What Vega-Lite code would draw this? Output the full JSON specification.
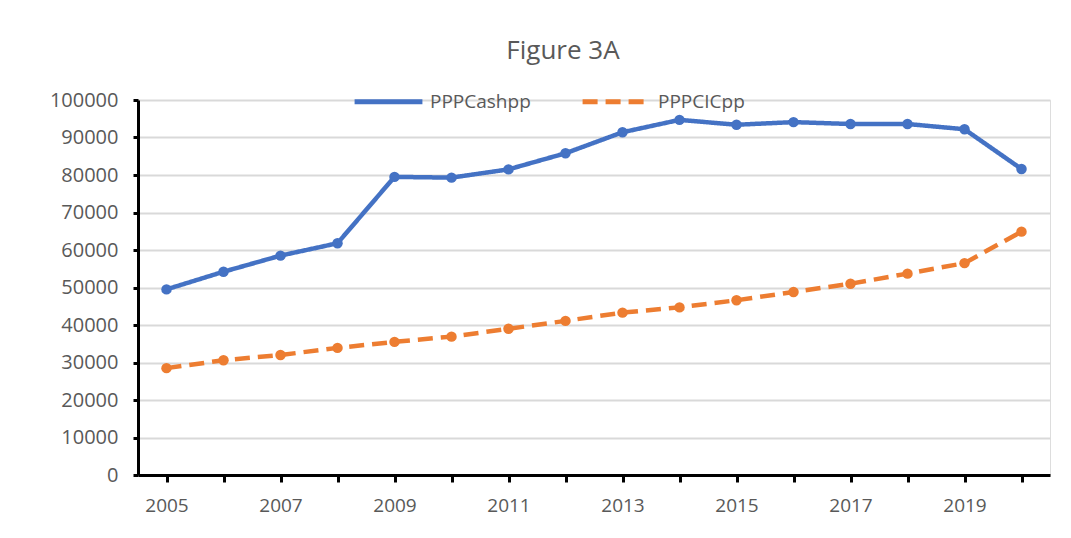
{
  "$schema": "https://vega.github.io/schema/vega-lite/v6.json",
  "width": 912,
  "height": 375,
  "autosize": "none",
  "padding": {"left": 138, "top": 100, "right": 21, "bottom": 63},
  "background": "white",
  "title": {"text": "Figure 3A", "fontSize": 26, "font": "Open Sans", "fontWeight": "normal", "color": "#595959", "anchor": "middle", "dx": -31, "offset": 1},
  "data": {"values": [
    {"year": 2005, "series": "PPPCashpp", "value": 49500},
    {"year": 2006, "series": "PPPCashpp", "value": 54200},
    {"year": 2007, "series": "PPPCashpp", "value": 58500},
    {"year": 2008, "series": "PPPCashpp", "value": 61800},
    {"year": 2009, "series": "PPPCashpp", "value": 79500},
    {"year": 2010, "series": "PPPCashpp", "value": 79300},
    {"year": 2011, "series": "PPPCashpp", "value": 81500},
    {"year": 2012, "series": "PPPCashpp", "value": 85800},
    {"year": 2013, "series": "PPPCashpp", "value": 91400},
    {"year": 2014, "series": "PPPCashpp", "value": 94700},
    {"year": 2015, "series": "PPPCashpp", "value": 93400},
    {"year": 2016, "series": "PPPCashpp", "value": 94100},
    {"year": 2017, "series": "PPPCashpp", "value": 93600},
    {"year": 2018, "series": "PPPCashpp", "value": 93600},
    {"year": 2019, "series": "PPPCashpp", "value": 92200},
    {"year": 2020, "series": "PPPCashpp", "value": 81600},
    {"year": 2005, "series": "PPPCICpp", "value": 28500},
    {"year": 2006, "series": "PPPCICpp", "value": 30600},
    {"year": 2007, "series": "PPPCICpp", "value": 32000},
    {"year": 2008, "series": "PPPCICpp", "value": 33900},
    {"year": 2009, "series": "PPPCICpp", "value": 35500},
    {"year": 2010, "series": "PPPCICpp", "value": 36900},
    {"year": 2011, "series": "PPPCICpp", "value": 39000},
    {"year": 2012, "series": "PPPCICpp", "value": 41100},
    {"year": 2013, "series": "PPPCICpp", "value": 43300},
    {"year": 2014, "series": "PPPCICpp", "value": 44700},
    {"year": 2015, "series": "PPPCICpp", "value": 46600},
    {"year": 2016, "series": "PPPCICpp", "value": 48800},
    {"year": 2017, "series": "PPPCICpp", "value": 51000},
    {"year": 2018, "series": "PPPCICpp", "value": 53700},
    {"year": 2019, "series": "PPPCICpp", "value": 56500},
    {"year": 2020, "series": "PPPCICpp", "value": 64900}
  ]},
  "encoding": {
    "x": {
      "field": "year", "type": "ordinal",
      "scale": {"type": "point", "padding": 0.5},
      "axis": {
        "title": null, "labelAngle": 0, "grid": false,
        "labelExpr": "datum.value % 2 == 1 ? datum.label : ''",
        "domainColor": "black", "domainWidth": 3,
        "tickColor": "black", "tickWidth": 3, "tickSize": 7,
        "labelPadding": 14, "labelFont": "Open Sans", "labelFontSize": 19, "labelColor": "#595959"
      }
    },
    "y": {
      "field": "value", "type": "quantitative",
      "scale": {"domain": [0, 100000], "nice": false},
      "axis": {
        "title": null, "values": [0, 10000, 20000, 30000, 40000, 50000, 60000, 70000, 80000, 90000, 100000],
        "format": "d", "grid": true, "gridColor": "#d9d9d9", "gridWidth": 2,
        "domainColor": "black", "domainWidth": 3,
        "tickColor": "black", "tickWidth": 3, "tickSize": 5,
        "labelPadding": 15, "labelFont": "Open Sans", "labelFontSize": 20, "labelColor": "#595959"
      }
    },
    "color": {
      "field": "series", "type": "nominal",
      "scale": {"domain": ["PPPCashpp", "PPPCICpp"], "range": ["#4472C4", "#ED7D31"]},
      "legend": {
        "title": null, "orient": "none", "direction": "horizontal",
        "legendX": 214, "legendY": -35,
        "symbolType": "stroke", "symbolSize": 4600, "symbolStrokeWidth": 5,
        "labelFont": "Open Sans", "labelFontSize": 19, "labelColor": "#595959",
        "labelOffset": 5, "columnPadding": 41
      }
    }
  },
  "layer": [
    {
      "mark": {"type": "line", "strokeWidth": 4.5},
      "encoding": {
        "strokeDash": {
          "field": "series", "type": "nominal",
          "scale": {"domain": ["PPPCashpp", "PPPCICpp"], "range": [[1, 0], [15, 8]]},
          "legend": {
            "title": null, "orient": "none", "direction": "horizontal",
            "legendX": 214, "legendY": -35,
            "symbolType": "stroke", "symbolSize": 4600, "symbolStrokeWidth": 5,
            "labelFont": "Open Sans", "labelFontSize": 19, "labelColor": "#595959",
            "labelOffset": 5, "columnPadding": 41
          }
        }
      }
    },
    {
      "mark": {"type": "point", "filled": true, "size": 110, "opacity": 1, "shape": "circle"}
    }
  ]
}
